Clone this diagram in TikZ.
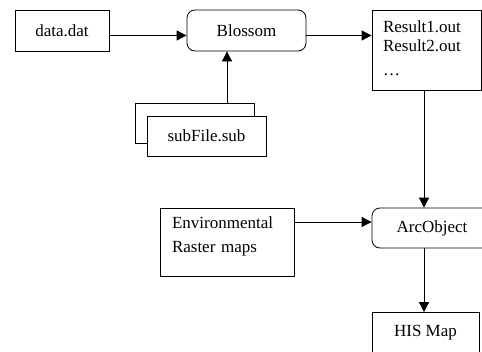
\documentclass[tikz,border=0pt]{standalone}
\usepackage{fontspec}
\setmainfont{Liberation Serif}
\usetikzlibrary{arrows.meta}
\begin{document}
\begin{tikzpicture}[x=1pt,y=-1pt,
  font=\fontsize{17}{19}\selectfont,
  filebox/.style={draw=black, line width=0.8pt, fill=white, inner sep=0pt},
  procbox/.style={filebox, rounded corners=8pt},
  flow/.style={draw=black, line width=0.8pt, -{Triangle[length=10pt,width=10pt]}}]
  \useasboundingbox (0,0) rectangle (482,351);
  \clip (0,0) rectangle (482,351);
  % top row
  \node[filebox, minimum width=94pt, minimum height=41pt] (data) at (62,30.5) {data.dat};
  \node[procbox, minimum width=119pt, minimum height=41pt] (blossom) at (246.5,30.5) {Blossom};
  \node[filebox, minimum width=109pt, minimum height=80pt, align=left, text width=87pt] (result) at (426.5,50)
    {Result1.out\\Result2.out\\[5pt]\ldots\rule[-3pt]{0pt}{3pt}};
  % stacked sub files
  \node[filebox, minimum width=119pt, minimum height=40pt] (subback) at (194.5,123) {};
  \node[filebox, minimum width=119pt, minimum height=40pt] (subfront) at (206.5,136) {subFile.sub};
  % lower part
  \node[filebox, minimum width=134pt, minimum height=68pt, align=left, text width=110pt] (env) at (227,242)
    {Environmental\\[5pt]Raster maps\rule[-14pt]{0pt}{14pt}};
  \node[procbox, minimum width=120pt, minimum height=40pt] (arc) at (432,228) {ArcObject};
  \node[filebox, minimum width=107pt, minimum height=40pt] (his) at (425.5,332.5) {HIS Map};
  % connectors
  \draw[flow] ([yshift=-5pt]data.east) -- ([yshift=-5pt]blossom.west);
  \draw[flow] ([yshift=-5pt]blossom.east) -- ([yshift=14.5pt]result.west);
  \draw[flow] ([xshift=32.5pt]subback.north) -- ([xshift=32.5pt]subback.north |- blossom.south);
  \draw[flow] ([xshift=-2.5pt]result.south) -- ([xshift=-2.5pt]result.south |- arc.north);
  \draw[flow] ([yshift=20pt]env.east) -- ([yshift=6pt]arc.west);
  \draw[flow] ([xshift=-8pt]arc.south) -- ([xshift=-8pt]arc.south |- his.north);
\end{tikzpicture}
\end{document}
